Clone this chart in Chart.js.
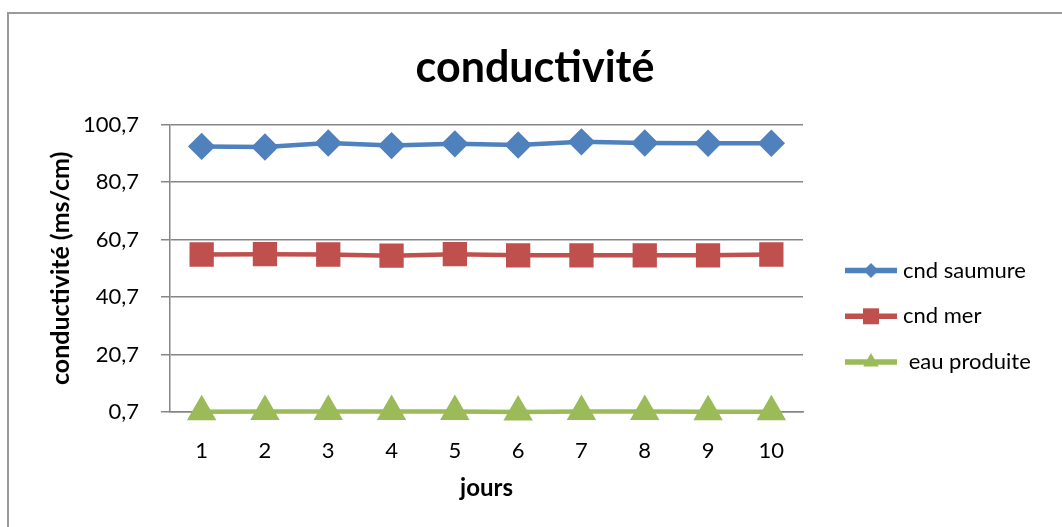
<!DOCTYPE html>
<html>
<head>
<meta charset="utf-8">
<script src="https://cdn.jsdelivr.net/npm/chart.js"></script>
<style>
html, body { margin: 0; padding: 0; background: #fff; overflow: hidden; }
#cadre { position: absolute; left: 7px; top: 12px; width: 1200px; height: 700px; border: 2px solid #9a9a9a; }
#zone { position: absolute; left: 0; top: 0; width: 1062px; height: 527px; }
</style>
</head>
<body>
<div id="cadre"></div>
<div id="zone"><canvas id="graphCanvas" width="1062" height="527"></canvas></div>
<script>
// donnees
var jours = ['1', '2', '3', '4', '5', '6', '7', '8', '9', '10'];
var cndSaumure = [93.1, 92.9, 94.3, 93.4, 94.0, 93.6, 94.7, 94.3, 94.2, 94.2];
var cndMer = [55.5, 55.6, 55.5, 55.1, 55.6, 55.2, 55.2, 55.2, 55.2, 55.5];
var eauProduite = [0.8, 0.9, 0.9, 0.9, 0.9, 0.7, 0.9, 0.9, 0.8, 0.8];
var graduations = [0.7, 20.7, 40.7, 60.7, 80.7, 100.7];
var nomsSeries = ['cnd saumure', 'cnd mer', ' eau produite'];

var police = 'Lato, "Liberation Sans", sans-serif';

function dessinerMarqueur(ctx, style, x, y, r) {
    ctx.beginPath();
    if (style == 'rectRot') {
        ctx.moveTo(x, y - r);
        ctx.lineTo(x + r, y);
        ctx.lineTo(x, y + r);
        ctx.lineTo(x - r, y);
    } else if (style == 'rect') {
        var c = r * Math.SQRT1_2;
        ctx.rect(x - c, y - c, 2 * c, 2 * c);
    } else {
        ctx.moveTo(x, y - r);
        ctx.lineTo(x + r * 0.866, y + r / 2);
        ctx.lineTo(x - r * 0.866, y + r / 2);
    }
    ctx.closePath();
    ctx.fill();
}

// legende facon Excel : trait + marqueur
var legendeExcel = {
    id: 'legendeExcel',
    afterDraw: function (chart) {
        var ctx = chart.ctx;
        var x0 = chart.chartArea.right + 42;
        var tailles = [7.5, 11.3, 9];
        ctx.save();
        chart.data.datasets.forEach(function (ds, i) {
            var y = 270.5 + i * 45.8;
            ctx.strokeStyle = ds.borderColor;
            ctx.lineWidth = 5.5;
            ctx.beginPath();
            ctx.moveTo(x0, y);
            ctx.lineTo(x0 + 52, y);
            ctx.stroke();
            ctx.fillStyle = ds.pointBackgroundColor;
            dessinerMarqueur(ctx, ds.pointStyle, x0 + 26, y, tailles[i]);
            ctx.fillStyle = '#000';
            ctx.font = '22px ' + police;
            ctx.textBaseline = 'middle';
            ctx.fillText(ds.label, x0 + 58, y);
        });
        ctx.restore();
    }
};

var chartdata = {
    labels: jours,
    datasets: [
        {
            label: nomsSeries[0],
            data: cndSaumure,
            borderColor: '#4F81BD',
            backgroundColor: '#4F81BD',
            pointBackgroundColor: '#4F81BD',
            pointBorderColor: '#4F81BD',
            pointStyle: 'rectRot',
            pointRadius: 10.5,
            borderWidth: 4.5,
            clip: false
        },
        {
            label: nomsSeries[1],
            data: cndMer,
            borderColor: '#C0504D',
            backgroundColor: '#C0504D',
            pointBackgroundColor: '#C0504D',
            pointBorderColor: '#C0504D',
            pointStyle: 'rect',
            pointRadius: 14,
            borderWidth: 4.5,
            clip: false
        },
        {
            label: nomsSeries[2],
            data: eauProduite,
            borderColor: '#9BBB59',
            backgroundColor: '#9BBB59',
            pointBackgroundColor: '#9BBB59',
            pointBorderColor: '#9BBB59',
            pointStyle: 'triangle',
            pointRadius: 12.5,
            borderWidth: 4.5,
            clip: false
        }
    ]
};

window.grafica = new Chart(document.getElementById('graphCanvas'), {
    type: 'line',
    data: chartdata,
    plugins: [legendeExcel],
    options: {
        responsive: false,
        animation: false,
        devicePixelRatio: 1,
        layout: { padding: { left: 8, right: 0, top: 0, bottom: 0 } },
        plugins: {
            legend: { display: false },
            tooltip: { enabled: false },
            title: {
                display: true,
                text: 'conductivité',
                color: '#000',
                font: { family: police, size: 43, weight: 'bold', lineHeight: 1.2 },
                padding: { top: 42, bottom: 31 }
            }
        },
        scales: {
            x: {
                offset: true,
                grid: { display: false, drawTicks: false },
                border: { color: '#868686', width: 1.5 },
                ticks: { color: '#000', font: { family: police, size: 22 }, padding: 26 },
                title: {
                    display: true,
                    text: 'jours',
                    color: '#000',
                    font: { family: police, size: 24, weight: 'bold', lineHeight: 1.2 },
                    padding: { top: 24.6, bottom: 24.6 }
                },
                afterFit: function (s) { s.height = 115; }
            },
            y: {
                min: 0.7,
                max: 100.7,
                afterBuildTicks: function (s) {
                    s.ticks = graduations.map(function (v) { return { value: v }; });
                },
                grid: { color: '#868686', lineWidth: 1.5, tickLength: 9 },
                border: { color: '#868686', width: 1.5 },
                ticks: {
                    color: '#000',
                    font: { family: police, size: 22 },
                    padding: 22,
                    callback: function (v) { return Number(v).toFixed(1).replace('.', ','); }
                },
                title: {
                    display: true,
                    text: 'conductivité (ms/cm)',
                    color: '#000',
                    font: { family: police, size: 25, weight: 'bold', lineHeight: 1.2 },
                    padding: { top: 38, bottom: 38 }
                },
                afterFit: function (s) { s.width = 162; }
            },
            droite: {
                type: 'linear',
                position: 'right',
                display: true,
                grid: { display: false },
                border: { display: false },
                ticks: { display: false },
                afterFit: function (s) { s.width = 259; }
            }
        }
    }
});
</script>
</body>
</html>
